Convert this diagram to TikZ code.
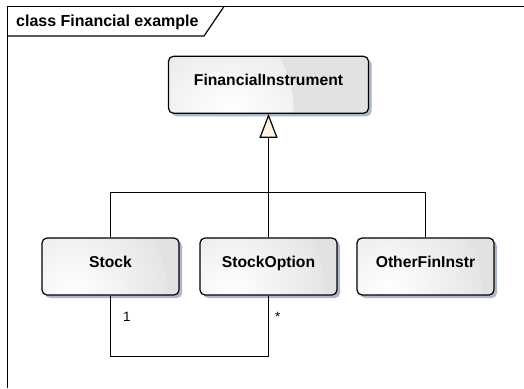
\documentclass[tikz,border=0pt]{standalone}
\usepackage{fontspec}
\setmainfont{Liberation Sans}
\usetikzlibrary{shadows,arrows.meta}
\definecolor{boxgray}{RGB}{226,226,226}
\definecolor{shadowblue}{RGB}{172,182,206}
\definecolor{cream}{RGB}{253,244,230}
\tikzset{
  classbox/.style={draw=black, line width=1.2pt, rounded corners=5pt,
    fill=boxgray, inner sep=0pt, minimum height=57pt,
    text height=12pt, text depth=10pt,
    font=\fontsize{15.7}{18}\selectfont\bfseries,
    drop shadow={shadow xshift=3pt, shadow yshift=-3pt, fill=shadowblue, opacity=1},
    path picture={\shade[inner color=white, outer color=boxgray]
      ([xshift=25pt,yshift=5pt]path picture bounding box.south west) circle (100pt);}},
  conn/.style={draw=black, line width=1.2pt},
  gen/.style={conn, -{Triangle[length=24pt, width=18pt, fill=cream]}},
  frameline/.style={draw=black, line width=1.2pt},
  mult/.style={inner sep=0pt, anchor=base west, font=\fontsize{13.5}{16}\selectfont},
  titletext/.style={inner sep=0pt, anchor=base west, font=\fontsize{16}{19}\selectfont\bfseries}
}
\begin{document}
\begin{tikzpicture}[x=1pt, y=-1pt]
  \useasboundingbox (0,0) rectangle (524,388);

  % diagram frame and its name tab
  \draw[frameline] (524,6.5) -- (7.5,6.5) -- (7.5,388);
  \draw[frameline] (7.5,36) -- (204,36) -- (224,6.5);
  \node[titletext] (title) at (16,26.7) {class Financial example};

  % classes
  \node[classbox, minimum width=200pt] (fin) at (268.5,84.75) {FinancialInstrument};
  \node[classbox, minimum width=137pt] (stock) at (110.5,266.5) {Stock};
  \node[classbox, minimum width=137pt] (so) at (268.5,266.5) {StockOption};
  \node[classbox, minimum width=137pt] (other) at (425.5,266.5) {OtherFinInstr};

  % generalization tree
  \draw[conn] (stock.north) -- ++(0,-45) -| (other.north);
  \draw[gen] (so.north) -- (fin.south);

  % association between Stock and StockOption
  \draw[conn] (stock.south) -- ++(0,61) -| (so.south);
  \node[mult] (m1) at (123,321.7) {1};
  \node[mult] (m2) at (275,321.7) {*};
\end{tikzpicture}
\end{document}
